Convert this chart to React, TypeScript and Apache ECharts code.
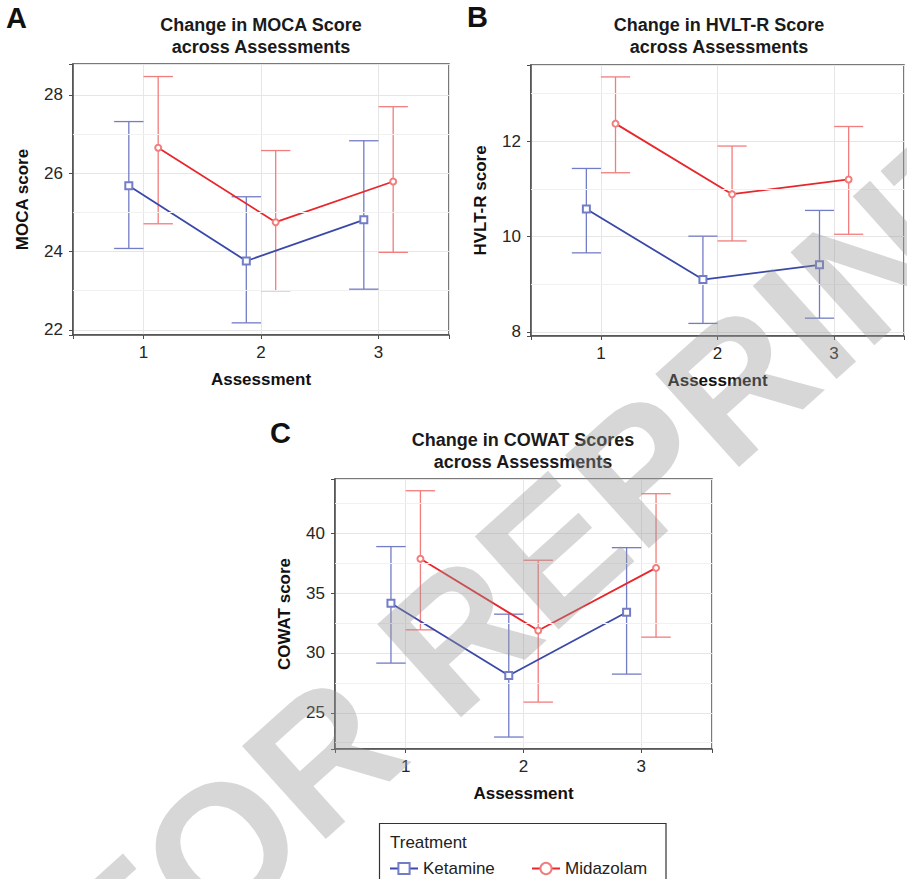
import React, { useEffect, useRef } from 'react';
import * as echarts from 'echarts';

// ---------- data ----------
const assessments = [1, 2, 3];
const treatments = ['Ketamine', 'Midazolam'];

const mocaKetamine = [25.68, 23.76, 24.81];
const mocaKetamineLow = [24.08, 22.18, 23.04];
const mocaKetamineHigh = [27.32, 25.4, 26.83];
const mocaMidazolam = [26.65, 24.75, 25.79];
const mocaMidazolamLow = [24.71, 23.0, 23.98];
const mocaMidazolamHigh = [28.47, 26.58, 27.7];

const hvltKetamine = [10.58, 9.1, 9.41];
const hvltKetamineLow = [9.66, 8.18, 8.29];
const hvltKetamineHigh = [11.43, 10.01, 10.55];
const hvltMidazolam = [12.37, 10.89, 11.2];
const hvltMidazolamLow = [11.34, 9.91, 10.05];
const hvltMidazolamHigh = [13.35, 11.9, 12.31];

const cowatKetamine = [34.16, 28.11, 33.4];
const cowatKetamineLow = [29.15, 22.97, 28.23];
const cowatKetamineHigh = [38.89, 33.24, 38.8];
const cowatMidazolam = [37.88, 31.87, 37.11];
const cowatMidazolamLow = [31.93, 25.89, 31.32];
const cowatMidazolamHigh = [43.56, 37.75, 43.31];

const mocaTicks = [22, 24, 26, 28];
const mocaMinor = [23, 25, 27];
const hvltTicks = [8, 10, 12];
const hvltMinor = [9, 11, 13];
const cowatTicks = [25, 30, 35, 40];
const cowatMinor = [22.5, 27.5, 32.5, 37.5, 42.5];

const titles = [
  'Change in MOCA Score\nacross Assessments',
  'Change in HVLT-R Score\nacross Assessments',
  'Change in COWAT Scores\nacross Assessments',
];
const yNames = ['MOCA score', 'HVLT-R score', 'COWAT score'];
const panelLetters = ['A', 'B', 'C'];
const xName = 'Assessment';
const legendTitle = 'Treatment';
const watermark = 'FOR REPRINT';

// ---------- styles / layout ----------
const FONT = '"Liberation Sans", Arial, Helvetica, sans-serif';
const lineColors = ['#3a48a8', '#e8262b'];
const barColors = ['#737cc6', '#f27d7d'];
const symbols = ['emptyRect', 'emptyCircle'];
const symbolSizes = [7, 6];
const dodge = [-0.125, 0.125];

const panels = [
  {
    grid: { left: 73, top: 64, width: 376, height: 271 },
    yMin: 21.87, yMax: 28.79, yStep: 2,
    ticks: mocaTicks, minor: mocaMinor,
    mean: [mocaKetamine, mocaMidazolam],
    low: [mocaKetamineLow, mocaMidazolamLow],
    high: [mocaKetamineHigh, mocaMidazolamHigh],
    titleX: 261, titleY: 36, letterX: 6, letterY: 32,
  },
  {
    grid: { left: 531, top: 65, width: 377, height: 271 },
    yMin: 7.916, yMax: 13.6, yStep: 2,
    ticks: hvltTicks, minor: hvltMinor,
    mean: [hvltKetamine, hvltMidazolam],
    low: [hvltKetamineLow, hvltMidazolamLow],
    high: [hvltKetamineHigh, hvltMidazolamHigh],
    titleX: 719, titleY: 36, letterX: 467, letterY: 31,
  },
  {
    grid: { left: 335, top: 479, width: 377, height: 270 },
    yMin: 21.97, yMax: 44.54, yStep: 5,
    ticks: cowatTicks, minor: cowatMinor,
    mean: [cowatKetamine, cowatMidazolam],
    low: [cowatKetamineLow, cowatMidazolamLow],
    high: [cowatKetamineHigh, cowatMidazolamHigh],
    titleX: 523, titleY: 451, letterX: 270, letterY: 447,
  },
];

function buildOption() {
  const grid: any[] = [];
  const xAxis: any[] = [];
  const yAxis: any[] = [];
  const series: any[] = [];
  const graphic: any[] = [];

  panels.forEach((p, i) => {
    grid.push({
      ...p.grid,
      show: true,
      borderColor: '#4d4d4d',
      borderWidth: 1.5,
      backgroundColor: '#fff',
      containLabel: false,
    });
    xAxis.push({
      type: 'value',
      gridIndex: i,
      min: 0.4,
      max: 3.6,
      minInterval: 1,
      maxInterval: 1,
      name: xName,
      nameLocation: 'middle',
      nameGap: 36,
      nameTextStyle: { fontFamily: FONT, fontSize: 17, fontWeight: 'bold', color: '#111' },
      axisLine: { show: true, onZero: false, lineStyle: { color: '#4d4d4d', width: 1.5 } },
      axisTick: { show: true, length: 4, lineStyle: { color: '#4d4d4d' } },
      axisLabel: {
        margin: 9,
        fontFamily: FONT,
        fontSize: 17,
        color: '#262626',
        showMinLabel: true,
        showMaxLabel: true,
        formatter: (v: number) => (assessments.includes(Math.round(v * 1000) / 1000) ? String(v) : ''),
      },
      splitLine: { show: true, lineStyle: { color: '#e6e6e6', width: 1 } },
    });
    yAxis.push({
      type: 'value',
      gridIndex: i,
      min: p.yMin,
      max: p.yMax,
      minInterval: p.yStep,
      maxInterval: p.yStep,
      name: yNames[i],
      nameLocation: 'middle',
      nameGap: 42,
      nameTextStyle: { fontFamily: FONT, fontSize: 17, fontWeight: 'bold', color: '#111' },
      axisLine: { show: true, onZero: false, lineStyle: { color: '#4d4d4d', width: 1.5 } },
      axisTick: { show: true, length: 4, lineStyle: { color: '#4d4d4d' } },
      axisLabel: {
        margin: 10,
        fontFamily: FONT,
        fontSize: 17,
        color: '#262626',
        formatter: (v: number) => (p.ticks.includes(Math.round(v * 1000) / 1000) ? String(v) : ''),
      },
      splitLine: { show: true, lineStyle: { color: '#e6e6e6', width: 1 } },
    });

    // minor grid lines
    series.push({
      type: 'line',
      xAxisIndex: i,
      yAxisIndex: i,
      data: [],
      silent: true,
      z: 1,
      markLine: {
        silent: true,
        symbol: 'none',
        label: { show: false },
        lineStyle: { color: '#f1f1f1', width: 1, type: 'solid' },
        data: p.minor.map((v) => ({ yAxis: v })),
      },
    });

    treatments.forEach((t, k) => {
      const errData = assessments.map((a, j) => [a + dodge[k], p.low[k][j], p.high[k][j]]);
      const color = barColors[k];
      series.push({
        type: 'custom',
        name: t + ' error',
        xAxisIndex: i,
        yAxisIndex: i,
        z: 2,
        silent: true,
        encode: { x: 0, y: [1, 2] },
        data: errData,
        renderItem: (params: any, api: any) => {
          const x = api.value(0);
          const lo = api.coord([x, api.value(1)]);
          const hi = api.coord([x, api.value(2)]);
          const half = api.size([0.125, 0])[0];
          const style = { stroke: color, lineWidth: 1.3, fill: 'none' };
          return {
            type: 'group',
            children: [
              { type: 'line', shape: { x1: lo[0], y1: lo[1], x2: hi[0], y2: hi[1] }, style },
              { type: 'line', shape: { x1: hi[0] - half, y1: hi[1], x2: hi[0] + half, y2: hi[1] }, style },
              { type: 'line', shape: { x1: lo[0] - half, y1: lo[1], x2: lo[0] + half, y2: lo[1] }, style },
            ],
          };
        },
      });
      series.push({
        type: 'line',
        name: t,
        xAxisIndex: i,
        yAxisIndex: i,
        z: 3,
        data: assessments.map((a, j) => [a + dodge[k], p.mean[k][j]]),
        symbol: symbols[k],
        symbolSize: symbolSizes[k],
        showAllSymbol: true,
        lineStyle: { color: lineColors[k], width: 1.8 },
        itemStyle: { color: barColors[k], borderWidth: 1.2 },
        emphasis: { disabled: true },
      });
    });

    graphic.push({
      type: 'text',
      x: p.titleX,
      y: p.titleY,
      style: {
        text: titles[i],
        textAlign: 'center',
        textVerticalAlign: 'middle',
        fontFamily: FONT,
        fontSize: 18,
        fontWeight: 'bold',
        lineHeight: 22,
        fill: '#1a1a1a',
      },
    });
    graphic.push({
      type: 'text',
      x: p.letterX,
      y: p.letterY,
      style: {
        text: panelLetters[i],
        textAlign: 'left',
        textVerticalAlign: 'bottom',
        fontFamily: FONT,
        fontSize: 29,
        fontWeight: 'bold',
        fill: '#111',
      },
    });
  });

  // legend box and title
  graphic.push({
    type: 'rect',
    shape: { x: 379.5, y: 823.5, width: 286.5, height: 80 },
    style: { fill: 'none', stroke: '#333', lineWidth: 1.2 },
  });
  graphic.push({
    type: 'text',
    x: 390,
    y: 842,
    style: {
      text: legendTitle,
      textAlign: 'left',
      textVerticalAlign: 'middle',
      fontFamily: FONT,
      fontSize: 17,
      fill: '#222',
    },
  });

  // watermark
  graphic.push({
    type: 'text',
    x: 545,
    y: 557,
    rotation: (42 * Math.PI) / 180,
    z: 100,
    silent: true,
    style: {
      text: watermark,
      textAlign: 'center',
      textVerticalAlign: 'middle',
      fontFamily: FONT,
      fontSize: 182,
      fontWeight: 'bold',
      fill: 'rgba(150,150,150,0.38)',
    },
  });

  const legendBase = {
    orient: 'horizontal',
    top: 855,
    itemWidth: 28,
    itemHeight: 14,
    itemGap: 10,
    selectedMode: false,
    textStyle: { fontFamily: FONT, fontSize: 17, color: '#222' },
  };

  return {
    animation: false,
    backgroundColor: '#fff',
    grid,
    xAxis,
    yAxis,
    series,
    graphic,
    legend: [
      { ...legendBase, left: 384, data: [treatments[0]] },
      { ...legendBase, left: 526, data: [treatments[1]] },
    ],
  };
}

export default function App() {
  const ref = useRef<HTMLDivElement>(null);
  useEffect(() => {
    if (!ref.current) return;
    const chart = echarts.init(ref.current, undefined, { renderer: 'svg' });
    chart.setOption(buildOption() as any);
    return () => chart.dispose();
  }, []);
  return (
    <div
      ref={ref}
      style={{ position: 'absolute', left: 0, top: 0, width: 907, height: 879 }}
    />
  );
}
